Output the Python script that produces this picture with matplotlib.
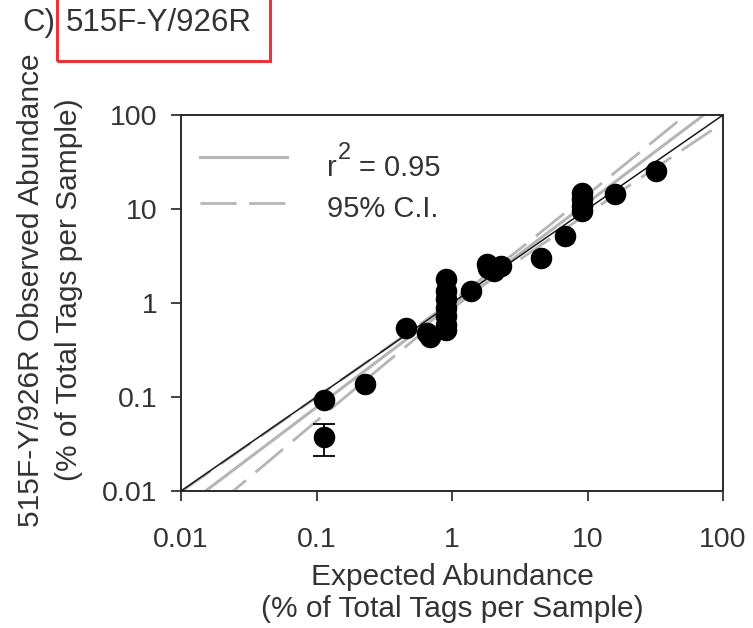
import numpy as np
import matplotlib
matplotlib.use("Agg")
import matplotlib.pyplot as plt
from matplotlib.patches import Rectangle

plt.rcParams['font.family'] = ['Liberation Sans', 'DejaVu Sans']

# ---- data ----
expected = [0.114, 0.228, 0.456, 0.65, 0.69,
            0.90, 0.90, 0.90, 0.90, 0.90, 0.90, 0.90,
            1.37, 1.80, 1.85, 2.05, 2.29,
            4.51, 6.79, 9.08, 9.08, 9.08, 9.08, 16.0, 32.1]
observed = [0.094, 0.136, 0.537, 0.48, 0.44,
            1.79, 1.34, 1.09, 0.89, 0.73, 0.59, 0.52,
            1.34, 2.58, 2.38, 2.2, 2.48,
            3.03, 5.16, 14.9, 12.7, 10.8, 9.5, 14.3, 25.3]

err_x = [0.114]
err_y = [0.0375]
err_low = [0.0236]
err_high = [0.051]

# regression in log-log space: log10(y) = fit_b * log10(x) + fit_a
fit_a = -0.021
fit_b = 1.088
# 95% CI half widths (log10 units): sqrt(ci_c0^2 + c^2 * (log10(x) - ci_m)^2)
ci_c0 = 0.04
ci_c_up = 0.087
ci_c_lo = 0.125
ci_m = 0.13

tick_vals = [0.01, 0.1, 1, 10, 100]
tick_labels = ['0.01', '0.1', '1', '10', '100']

W, H = 753, 628
fig = plt.figure(figsize=(W / 100, H / 100), dpi=100)
ax = fig.add_axes([181 / W, 1 - 491 / H, (723 - 181) / W, (491 - 115) / H])


def axx(px):
    return (px - 181) / 542


def axy(py):
    return (491 - py) / 376


txt = '#333333'
gray = '#b5b5b5'
fs_tick = 20.5
fs_lab = 21.5
fs_leg = 21
fs_title = 22.5

ax.set_xscale('log')
ax.set_yscale('log')
ax.set_xlim(0.01, 100)
ax.set_ylim(0.01, 100)

# 1:1 line
ax.plot([0.01, 100], [0.01, 100], color='#1a1a1a', lw=1.1, zorder=3)

# regression and CI
lx = np.linspace(-2, 2, 400)
ly = fit_a + fit_b * lx
h_up = np.sqrt(ci_c0 ** 2 + ci_c_up ** 2 * (lx - ci_m) ** 2)
h_lo = np.sqrt(ci_c0 ** 2 + ci_c_lo ** 2 * (lx - ci_m) ** 2)
xx = 10 ** lx
ax.plot(xx, 10 ** ly, color=gray, lw=2.2, zorder=2)
ax.plot(xx, 10 ** (ly + h_up), color=gray, lw=2.0, dashes=(13, 4.5), zorder=2)
ax.plot(xx, 10 ** (ly - h_lo), color=gray, lw=2.0, dashes=(13, 4.5), zorder=2)

# points
ms = 14.5
ax.plot(expected, observed, 'o', color='black', ms=ms, zorder=4)
ax.errorbar(err_x, err_y,
            yerr=[[err_y[0] - err_low[0]], [err_high[0] - err_y[0]]],
            fmt='o', color='black', ms=ms, capsize=8, elinewidth=1.3,
            capthick=1.3, zorder=4)

ax.set_xticks(tick_vals)
ax.set_xticklabels(tick_labels)
ax.set_yticks(tick_vals)
ax.set_yticklabels(tick_labels)
ax.minorticks_off()
ax.tick_params(axis='both', direction='out', length=7, width=1.3,
               colors=txt, labelsize=fs_tick, labelcolor=txt)
ax.tick_params(axis='x', pad=19)
ax.tick_params(axis='y', pad=10)
for s in ax.spines.values():
    s.set_linewidth(1.4)
    s.set_color('#2a2a2a')

ax.set_xlabel('Expected Abundance\n(% of Total Tags per Sample)',
              fontsize=fs_lab, color=txt, linespacing=1.15)
ax.xaxis.set_label_coords(0.5, axy(593))
ax.xaxis.label.set_va('center')
ax.set_ylabel('515F-Y/926R Observed Abundance\n(% of Total Tags per Sample)',
              fontsize=fs_lab, color=txt, linespacing=1.45)
ax.yaxis.set_label_coords(axx(50), axy(290))
ax.yaxis.label.set_va('center')

# legend (drawn in axes coordinates)
ax.plot([axx(200), axx(287)], [axy(157), axy(157)], color=gray, lw=2.2,
        transform=ax.transAxes, zorder=5)
ax.plot([axx(200), axx(287)], [axy(203), axy(203)], color=gray, lw=2.0,
        dashes=(13, 4.5), transform=ax.transAxes, zorder=5)
ax.text(axx(327), axy(176), 'r', transform=ax.transAxes,
        fontsize=fs_leg, color=txt, va='baseline', ha='left')
ax.text(axx(338), axy(159), '2', transform=ax.transAxes,
        fontsize=17, color=txt, va='baseline', ha='left')
ax.text(axx(359), axy(176), '= 0.95', transform=ax.transAxes,
        fontsize=fs_leg, color=txt, va='baseline', ha='left')
ax.text(axx(327), axy(217), '95% C.I.', transform=ax.transAxes,
        fontsize=fs_leg, color=txt, va='baseline', ha='left')

# panel title with red box
fig.text(22 / W, 1 - 23 / H, 'C)', fontsize=fs_title, color=txt, va='center', ha='left')
fig.text(66 / W, 1 - 23 / H, '515F-Y/926R', fontsize=fs_title, color=txt,
         va='center', ha='left')
fig.patches.append(Rectangle((57 / W, 1 - 61 / H), (270 - 57) / W, 80 / H,
                             transform=fig.transFigure, fill=False,
                             edgecolor='#e8353b', lw=2.2, clip_on=False))

fig.savefig('out.png', dpi=100)
